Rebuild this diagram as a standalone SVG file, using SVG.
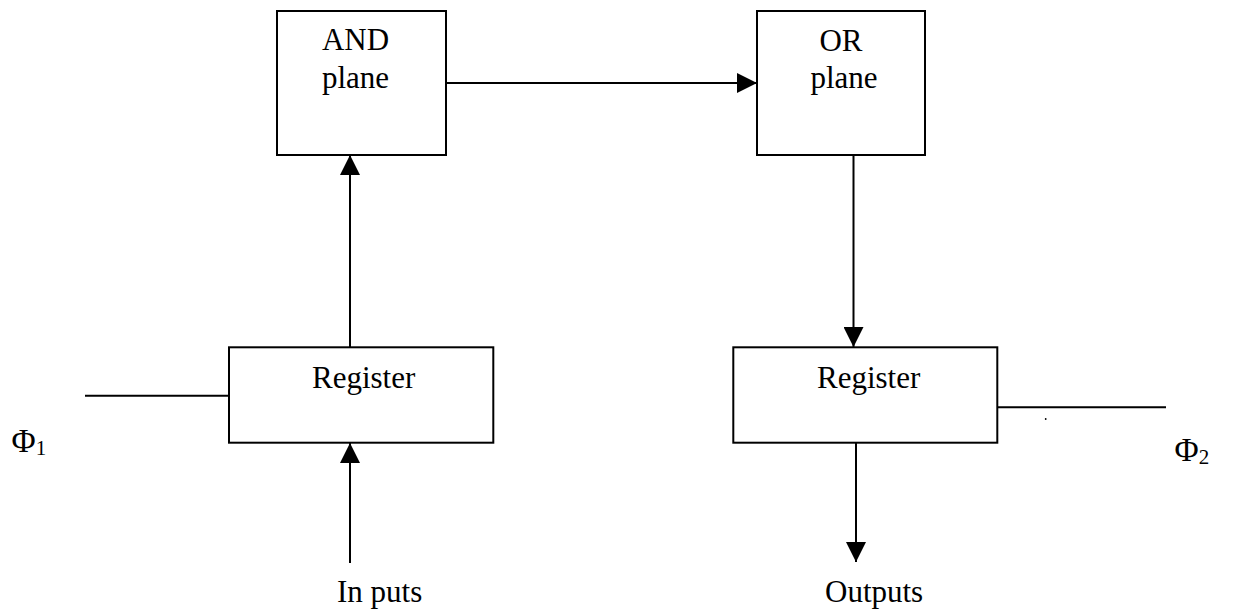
<svg xmlns="http://www.w3.org/2000/svg" width="1233" height="613" viewBox="0 0 1233 613">
  <style>
    .box { fill: #fff; stroke: #000; stroke-width: 2; }
    .wire { fill: none; stroke: #000; stroke-width: 2; }
    .lbl { font-family: "Liberation Serif", "Times New Roman", serif; font-size: 31px; fill: #000; }
    .phi { font-size: 33px; }
    .sub { font-size: 21px; }
  </style>
  <defs>
    <marker id="head" markerWidth="20" markerHeight="20" refX="20" refY="10" orient="auto" markerUnits="userSpaceOnUse">
      <path d="M0,0 L20,10 L0,20 Z" fill="#000"/>
    </marker>
  </defs>
  <rect width="1233" height="613" fill="#fff"/>

  <g id="connectors">
    <!-- AND plane to OR plane -->
    <line class="wire" x1="446" y1="83" x2="757" y2="83" marker-end="url(#head)"/>
    <!-- input register up into AND plane -->
    <line class="wire" x1="350" y1="347" x2="350" y2="155" marker-end="url(#head)"/>
    <!-- OR plane down into output register -->
    <line class="wire" x1="853.5" y1="155" x2="853.5" y2="347" marker-end="url(#head)"/>
    <!-- inputs into register -->
    <line class="wire" x1="350" y1="563" x2="350" y2="443" marker-end="url(#head)"/>
    <!-- register to outputs -->
    <line class="wire" x1="856" y1="443" x2="856" y2="562" marker-end="url(#head)"/>
    <!-- clock lines -->
    <line class="wire" x1="85" y1="395.7" x2="229" y2="395.7"/>
    <line class="wire" x1="997" y1="407.3" x2="1166" y2="407.3"/>
    <circle cx="1045.7" cy="419" r="0.9" fill="#000"/>
  </g>

  <g id="and-plane">
    <rect class="box" x="277" y="11" width="169" height="144"/>
    <text class="lbl" x="355.5" y="50" text-anchor="middle">AND</text>
    <text class="lbl" x="355.5" y="88" text-anchor="middle">plane</text>
  </g>

  <g id="or-plane">
    <rect class="box" x="757" y="11" width="168" height="144"/>
    <text class="lbl" x="841" y="50.5" text-anchor="middle">OR</text>
    <text class="lbl" x="844" y="88" text-anchor="middle">plane</text>
  </g>

  <g id="input-register">
    <rect class="box" x="229" y="347.3" width="264.3" height="95.4"/>
    <text class="lbl" x="312" y="388.3">Register</text>
  </g>

  <g id="output-register">
    <rect class="box" x="733.3" y="347.3" width="264" height="95.4"/>
    <text class="lbl" x="817" y="388.3">Register</text>
  </g>

  <g id="phi1">
    <text class="lbl" x="11.5" y="452"><tspan class="phi">Φ</tspan><tspan class="sub" dy="3">1</tspan></text>
  </g>

  <g id="phi2">
    <text class="lbl" x="1174.5" y="461"><tspan class="phi">Φ</tspan><tspan class="sub" dy="3">2</tspan></text>
  </g>

  <g id="inputs-label">
    <text class="lbl" x="337" y="601.7">In puts</text>
  </g>

  <g id="outputs-label">
    <text class="lbl" x="825" y="602">Outputs</text>
  </g>
</svg>
